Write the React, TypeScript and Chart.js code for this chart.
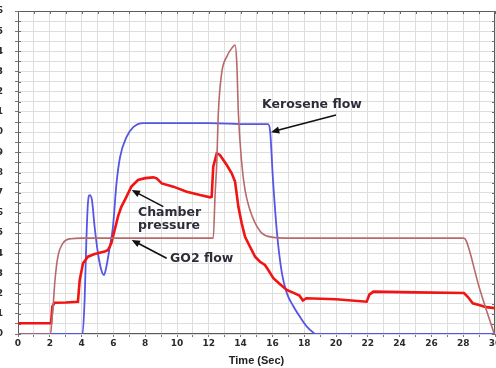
import React, { useEffect, useRef } from 'react';
import { Chart, registerables } from 'chart.js';

Chart.register(...registerables);

// ---- data (time in s, values in chart units) ----
const go2Time = [0, 2.05, 2.12, 2.2, 2.33, 2.5, 2.83, 3.33, 4, 12.28, 12.39, 12.5, 12.6, 12.81, 13.13, 13.44, 13.65, 13.76, 13.86, 14.07, 14.28, 14.59, 14.91, 15.33, 15.97, 17, 28.05, 28.2, 29.0, 29.95];
const go2Flow = [0, 0, 0.6, 1.3, 2.7, 3.8, 4.5, 4.72, 4.75, 4.75, 6.8, 8.47, 10.95, 12.93, 13.74, 14.15, 14.31, 13.42, 10.95, 8.47, 7.13, 6.14, 5.5, 5.0, 4.8, 4.75, 4.75, 4.6, 2.33, 0];

const keroTime = [0, 4.06, 4.19, 4.3, 4.4, 4.51, 4.65, 4.82, 5.03, 5.24, 5.41, 5.55, 5.77, 5.97, 6.2, 6.42, 6.83, 7.25, 7.88, 12, 14.5, 15.72, 15.85, 16.04, 16.29, 16.6, 16.92, 17.3, 17.74, 18.18, 18.6, 18.7, 30];
const keroFlow = [0, 0, 1.68, 4.66, 6.5, 6.88, 6.64, 5.3, 4.0, 3.17, 2.92, 3.3, 4.3, 5.3, 7.5, 8.77, 9.76, 10.25, 10.45, 10.45, 10.4, 10.4, 10.1, 7.6, 5.0, 3.0, 2.0, 1.4, 0.84, 0.35, 0.05, 0, 0];

const chamberTime = [0, 2.08, 2.16, 2.3, 3.0, 3.77, 3.88, 4.09, 4.4, 4.82, 5.45, 5.66, 5.87, 6.08, 6.3, 6.5, 6.77, 7.13, 7.55, 8.0, 8.51, 8.72, 9.04, 9.77, 10.61, 11.45, 12.08, 12.18, 12.28, 12.5, 12.7, 13.13, 13.44, 13.65, 13.86, 14.07, 14.28, 14.59, 14.91, 15.22, 15.53, 15.74, 16.06, 16.5, 16.9, 17.3, 17.7, 17.92, 18.13, 20.0, 21.93, 22.1, 22.35, 25.0, 28.05, 28.3, 28.6, 29.0, 29.45, 30];
const chamberPressure = [0.53, 0.53, 1.35, 1.55, 1.56, 1.6, 2.67, 3.5, 3.83, 3.96, 4.08, 4.16, 4.49, 5.15, 5.85, 6.3, 6.72, 7.3, 7.63, 7.72, 7.76, 7.71, 7.46, 7.3, 7.05, 6.88, 6.77, 6.8, 8.29, 8.95, 8.87, 8.37, 7.96, 7.55, 6.3, 5.48, 4.82, 4.32, 3.83, 3.58, 3.42, 3.17, 2.76, 2.45, 2.18, 2.05, 1.9, 1.66, 1.77, 1.72, 1.6, 1.95, 2.1, 2.06, 2.03, 1.83, 1.52, 1.44, 1.33, 1.28];

const xTickLabels = [0, 2, 4, 6, 8, 10, 12, 14, 16, 18, 20, 22, 24, 26, 28, 30];
const yTickLabels = [0, 1, 2, 3, 4, 5, 6, 7, 8, 9, 10, 11, 12, 13, 14, 15, 16];
const xAxisTitle = 'Time (Sec)';

// annotation texts (anchored in data units)
const annotations = [
  { lines: ['Kerosene flow'], x: 15.35, y: 11.34, from: [20.0, 10.85], to: [15.91, 10.0] },
  { lines: ['Chamber', 'pressure'], x: 7.55, y: 5.99, from: [9.14, 6.31], to: [7.15, 7.13] },
  { lines: ['GO2 flow'], x: 9.56, y: 3.71, from: [9.35, 3.75], to: [7.15, 4.66] },
];

const toPoints = (xs: number[], ys: number[]) => xs.map((x, i) => ({ x, y: ys[i] }));

const framePlugin = {
  id: 'frame',
  beforeDatasetsDraw(chart: any) {
    const { ctx, chartArea: a, scales } = chart;
    ctx.save();
    ctx.strokeStyle = '#5c5c5c';
    ctx.lineWidth = 1;
    ctx.strokeRect(a.left + 0.5, a.top + 0.5, a.right - a.left - 1, a.bottom - a.top - 1);
    ctx.strokeStyle = '#6a6a6a';
    ctx.beginPath();
    for (const t of scales.x.ticks) {
      const px = Math.round(scales.x.getPixelForValue(t.value)) + 0.5;
      ctx.moveTo(px, a.top);
      ctx.lineTo(px, a.top + 3);
    }
    for (const t of scales.y.ticks) {
      const py = Math.round(scales.y.getPixelForValue(t.value)) + 0.5;
      ctx.moveTo(a.left, py);
      ctx.lineTo(a.left + 3, py);
      ctx.moveTo(a.right - 3, py);
      ctx.lineTo(a.right, py);
    }
    ctx.stroke();
    ctx.restore();
  },
};

const annotationPlugin = {
  id: 'notes',
  afterDatasetsDraw(chart: any) {
    const { ctx, scales } = chart;
    const X = (v: number) => scales.x.getPixelForValue(v);
    const Y = (v: number) => scales.y.getPixelForValue(v);
    ctx.save();
    ctx.font = 'bold 12.5px "DejaVu Sans"';
    ctx.textBaseline = 'middle';
    ctx.textAlign = 'left';
    for (const n of annotations) {
      ctx.fillStyle = '#2e2e3a';
      n.lines.forEach((line, i) => {
        ctx.fillText(line, X(n.x), Y(n.y) + i * 13);
      });
      const x1 = X(n.from[0]), y1 = Y(n.from[1]);
      const x2 = X(n.to[0]), y2 = Y(n.to[1]);
      const ang = Math.atan2(y2 - y1, x2 - x1);
      ctx.strokeStyle = '#111';
      ctx.lineWidth = 1.6;
      ctx.beginPath();
      ctx.moveTo(x1, y1);
      ctx.lineTo(x2 - 5 * Math.cos(ang), y2 - 5 * Math.sin(ang));
      ctx.stroke();
      ctx.fillStyle = '#111';
      ctx.beginPath();
      ctx.moveTo(x2, y2);
      ctx.lineTo(x2 - 9 * Math.cos(ang - 0.4), y2 - 9 * Math.sin(ang - 0.4));
      ctx.lineTo(x2 - 9 * Math.cos(ang + 0.4), y2 - 9 * Math.sin(ang + 0.4));
      ctx.closePath();
      ctx.fill();
    }
    ctx.restore();
  },
};

export default function App() {
  const ref = useRef<HTMLCanvasElement | null>(null);
  useEffect(() => {
    if (!ref.current) return;
    const chart = new Chart(ref.current, {
      type: 'line',
      data: {
        datasets: [
          {
            label: 'GO2 flow',
            data: toPoints(go2Time, go2Flow),
            borderColor: '#b86a6a',
            borderWidth: 1.6,
            pointRadius: 0,
            cubicInterpolationMode: 'monotone',
          },
          {
            label: 'Chamber pressure',
            data: toPoints(chamberTime, chamberPressure),
            borderColor: '#f01414',
            borderWidth: 2.6,
            pointRadius: 0,
            tension: 0,
          },
          {
            label: 'Kerosene flow',
            data: toPoints(keroTime, keroFlow),
            borderColor: '#5656e4',
            borderWidth: 1.8,
            pointRadius: 0,
            cubicInterpolationMode: 'monotone',
          },
        ],
      },
      options: {
        animation: false,
        responsive: true,
        maintainAspectRatio: false,
        layout: { padding: { top: 11, right: 15, left: 0, bottom: 0 } },
        plugins: { legend: { display: false }, tooltip: { enabled: false } },
        scales: {
          x: {
            type: 'linear',
            min: 0,
            max: 30,
            afterFit: (s: any) => { s.height = 34; },
            grid: { color: '#dedede', tickLength: 3, tickColor: '#777' },
            border: { display: false },
            ticks: {
              stepSize: 1,
              autoSkip: false,
              maxRotation: 0,
              padding: 1,
              color: '#2a2a2a',
              font: { family: '"DejaVu Sans"', size: 9, weight: 'bold' },
              callback: (v: any) => (xTickLabels.includes(Number(v)) ? String(v) : ''),
            },
            title: {
              display: true,
              text: xAxisTitle,
              color: '#222',
              font: { family: '"Liberation Sans"', size: 11, weight: 'bold' },
              padding: { top: 0, bottom: 0 },
            },
          },
          y: {
            type: 'linear',
            min: 0,
            max: 16,
            afterFit: (s: any) => { s.width = 38; s.paddingTop = 0; s.paddingBottom = 0; },
            grid: { color: '#dedede', tickLength: 3, tickColor: '#777' },
            border: { display: false },
            ticks: {
              stepSize: 0.5,
              autoSkip: false,
              padding: 12,
              color: '#2a2a2a',
              font: { family: '"DejaVu Sans"', size: 9, weight: 'bold' },
              callback: (v: any) => (yTickLabels.includes(Number(v)) ? String(v) : ''),
            },
          },
        },
      },
      plugins: [framePlugin, annotationPlugin],
    } as any);
    return () => chart.destroy();
  }, []);

  return (
    <div style={{ position: 'fixed', left: -20, top: 0, width: 530, height: 368, background: '#fff' }}>
      <canvas ref={ref} />
    </div>
  );
}
